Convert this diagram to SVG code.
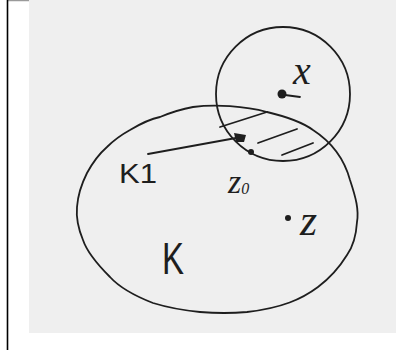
<svg xmlns="http://www.w3.org/2000/svg" width="401" height="350" viewBox="0 0 401 350">
<style>
.ink{fill:none;stroke:#1e1e1e;stroke-width:1.8;stroke-linecap:round;stroke-linejoin:round}
.dot{fill:#1e1e1e}
.lbl{font-family:"Liberation Serif",serif;font-style:italic;fill:#1e1e1e}
.lbs{font-family:"Liberation Sans",sans-serif;fill:#1e1e1e}
</style>
<rect x="0" y="0" width="401" height="350" fill="#ffffff"/>
<rect x="29" y="0" width="367" height="333" fill="#efefef"/>
<line x1="8" y1="0.5" x2="29" y2="0.5" stroke="#9a9a9a" stroke-width="1.5"/>
<line x1="7.5" y1="0" x2="7.5" y2="350" stroke="#000" stroke-width="1.6"/>

<g id="K">
<path class="ink" d="M193,107 C215,104 245,106 267,112 C288,117 302,122 313,130 C330,141 344,158 350,180 C356,198 359,210 357,222 C356,238 352,248 347,255 C339,268 330,278 318,287 C302,299 282,308 247,312 C225,314 212,313 200,312 C180,310 166,307 153,303 C135,296 120,288 110,277 C96,263 87,252 83,240 C78,228 76,218 77,207 C78,193 82,183 87,173 C93,162 99,154 107,147 C114,140 121,135 130,130 C140,124 150,119 160,117 C172,112 182,109 193,107 Z"/>
<text class="lbs" x="162" y="274" font-size="44" textLength="22" lengthAdjust="spacingAndGlyphs">K</text>
</g>

<g id="ball">
<circle class="ink" cx="283" cy="94" r="67"/>
</g>

<g id="x">
<circle class="dot" cx="282" cy="94" r="4.5"/>
<line class="ink" x1="285" y1="95" x2="300" y2="97" stroke-width="1.2"/>
<text class="lbl" x="293" y="84" font-size="40">x</text>
</g>

<g id="hatch">
<line class="ink" x1="220" y1="127" x2="267" y2="112"/>
<line class="ink" x1="258" y1="143" x2="297" y2="129"/>
<line class="ink" x1="282" y1="155" x2="313" y2="143"/>
</g>

<g id="z0">
<circle class="dot" cx="251" cy="152" r="3"/>
<text class="lbl" x="228" y="193" font-size="34">z<tspan font-size="16" dy="1">0</tspan></text>
</g>

<g id="z">
<circle class="dot" cx="288" cy="218" r="3"/>
<text class="lbl" x="300" y="235" font-size="44">z</text>
</g>

<g id="K1">
<text class="lbs" x="119" y="183" font-size="28" textLength="38" lengthAdjust="spacingAndGlyphs">K1</text>
</g>

<g id="connectors">
<line class="ink" x1="148" y1="154" x2="236" y2="138"/>
<path class="dot" d="M234,133 L246,135 L244,142 L236,142 Z"/>
</g>
</svg>
